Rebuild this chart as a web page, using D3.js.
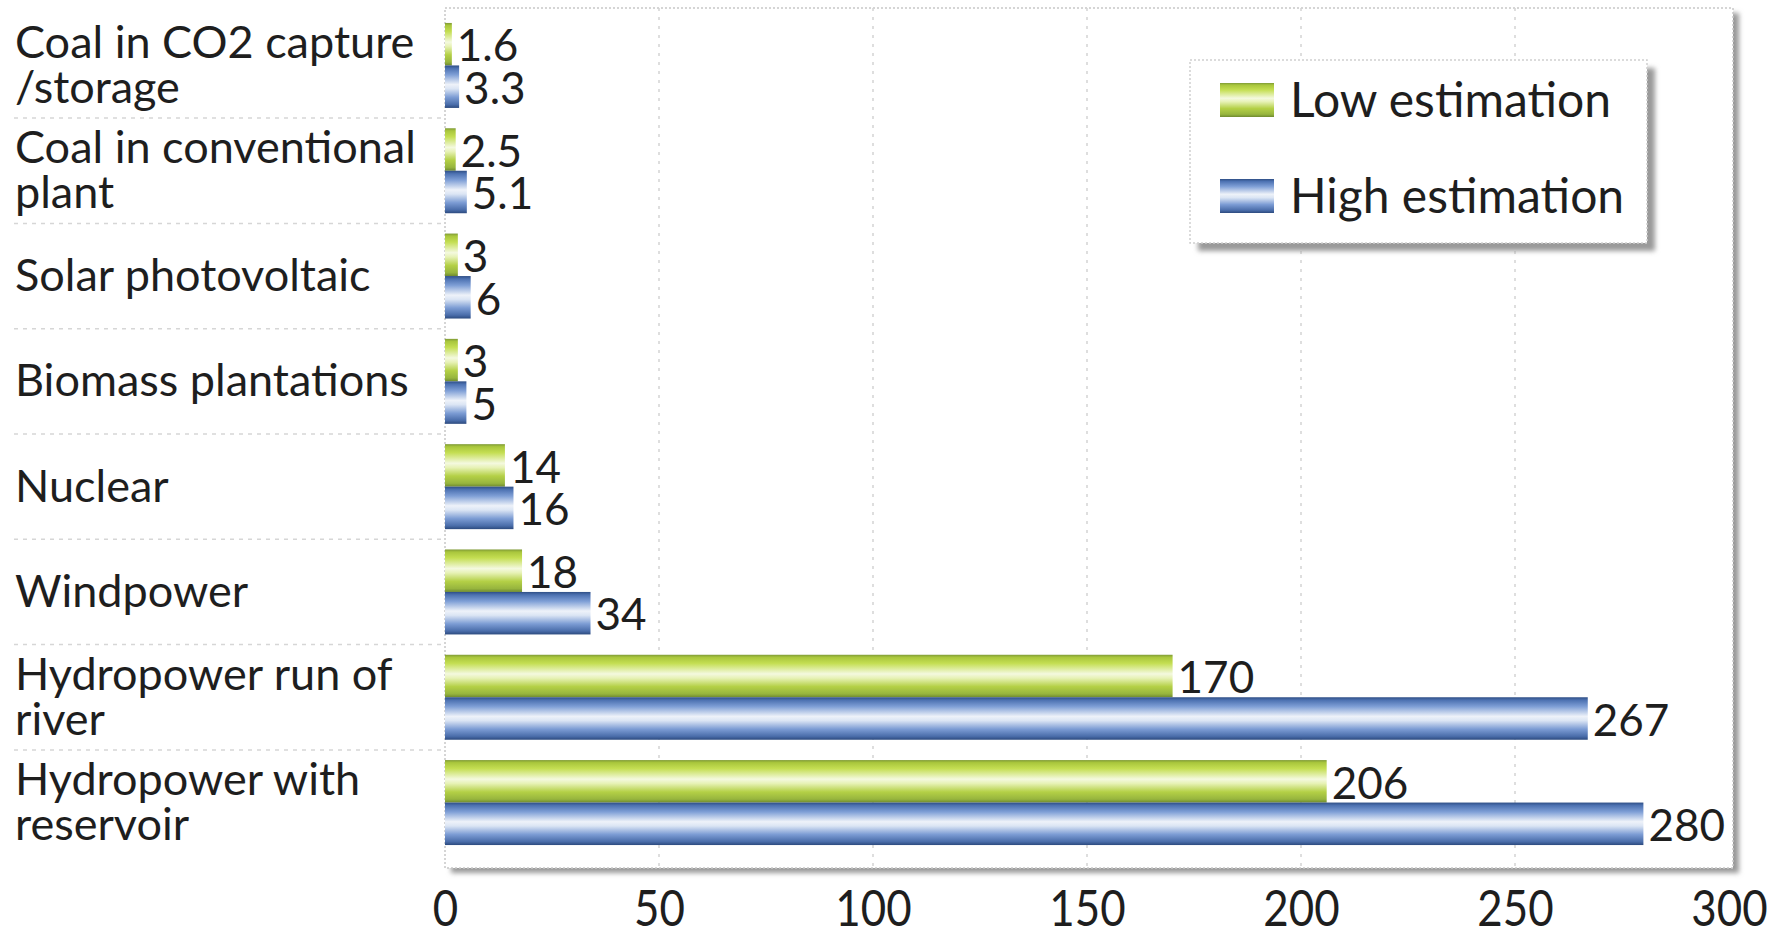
<!DOCTYPE html>
<html>
<head>
<meta charset="utf-8">
<script src="https://cdn.jsdelivr.net/npm/d3@7"></script>
<style>
  html, body { margin: 0; padding: 0; background: #ffffff; }
  svg { display: block; }
  text { font-family: Lato, "Noto Sans", sans-serif; fill: #1e1e1e; }
</style>
</head>
<body>
<svg id="chart" width="1768" height="937"></svg>
<script>
// ---- data ----
const categories = [
  "Coal in CO2 capture\n/storage",
  "Coal in conventional\nplant",
  "Solar photovoltaic",
  "Biomass plantations",
  "Nuclear",
  "Windpower",
  "Hydropower run of\nriver",
  "Hydropower with\nreservoir"
];
const lowValues  = [1.6, 2.5, 3, 3, 14, 18, 170, 206];
const highValues = [3.3, 5.1, 6, 5, 16, 34, 267, 280];
const valueLabels = {
  low:  ["1.6", "2.5", "3", "3", "14", "18", "170", "206"],
  high: ["3.3", "5.1", "6", "5", "16", "34", "267", "280"]
};
const seriesKeys  = ["low", "high"];
const seriesNames = ["Low estimation", "High estimation"];
const xTicks = [0, 50, 100, 150, 200, 250, 300];

// ---- layout ----
const svg = d3.select("#chart");
const frame = { left: 445, right: 1733, top: 8, bottom: 868 };

const x = d3.scaleLinear().domain([0, 300]).range([445, 1729]);
const y = d3.scaleBand().domain(d3.range(categories.length))
  .range([4, 864]).paddingInner(0.193).paddingOuter(0.18);
const ySub = d3.scaleBand().domain(seriesKeys).range([0, y.bandwidth()]);

const rows = categories.map((c, i) => ({
  i, cat: c, low: lowValues[i], high: highValues[i]
}));

// ---- defs ----
const defs = svg.append("defs");
const blur = defs.append("filter").attr("id", "blur")
  .attr("x", "-5%").attr("y", "-5%").attr("width", "110%").attr("height", "110%");
blur.append("feGaussianBlur").attr("stdDeviation", 2.5);

const gradStops = {
  low: [
    [0, "#7f9a36"], [0.06, "#a9c63c"], [0.2, "#c4de52"], [0.45, "#f4f9df"],
    [0.55, "#e7f2b6"], [0.75, "#b4d046"], [0.92, "#97b53e"], [1, "#6f8a30"]
  ],
  high: [
    [0, "#2f4f86"], [0.07, "#4d72b2"], [0.22, "#7f9fd6"], [0.45, "#eef2f9"],
    [0.55, "#dbe5f4"], [0.75, "#7c9cd4"], [0.92, "#4a6daa"], [1, "#2c4a7e"]
  ]
};
seriesKeys.forEach(k => {
  const g = defs.append("linearGradient").attr("id", "grad-" + k)
    .attr("x1", 0).attr("y1", 0).attr("x2", 0).attr("y2", 1);
  gradStops[k].forEach(([o, c]) => g.append("stop").attr("offset", o).attr("stop-color", c));
});

// ---- plot frame with shadow ----
svg.append("rect")
  .attr("x", frame.left + 6).attr("y", frame.top + 5)
  .attr("width", frame.right - frame.left).attr("height", frame.bottom - frame.top)
  .attr("fill", "#9a9a9a").attr("filter", "url(#blur)");
svg.append("rect")
  .attr("x", frame.left).attr("y", frame.top)
  .attr("width", frame.right - frame.left).attr("height", frame.bottom - frame.top)
  .attr("fill", "#ffffff").attr("stroke", "#c8c8c8").attr("stroke-width", 1.5)
  .attr("stroke-dasharray", "2,2");

// vertical grid lines
svg.append("g").selectAll("line")
  .data(xTicks.filter(t => t > 0 && t < 300))
  .join("line")
  .attr("x1", d => x(d)).attr("x2", d => x(d))
  .attr("y1", frame.top).attr("y2", frame.bottom)
  .attr("stroke", "#d4d4d4").attr("stroke-width", 1.5)
  .attr("stroke-dasharray", "3,6");

// horizontal separators in label column
svg.append("g").selectAll("line")
  .data(d3.range(1, categories.length))
  .join("line")
  .attr("x1", 14).attr("x2", frame.left - 2)
  .attr("y1", i => (y(i - 1) + y.bandwidth() + y(i)) / 2)
  .attr("y2", i => (y(i - 1) + y.bandwidth() + y(i)) / 2)
  .attr("stroke", "#d6d6d6").attr("stroke-width", 1.5)
  .attr("stroke-dasharray", "4,5");

// ---- bars ----
const groups = svg.append("g").selectAll("g.row")
  .data(rows).join("g").attr("class", "row")
  .attr("transform", d => `translate(0,${y(d.i)})`);

seriesKeys.forEach(k => {
  groups.append("rect")
    .attr("x", x(0))
    .attr("y", ySub(k))
    .attr("width", d => x(d[k]) - x(0))
    .attr("height", ySub.bandwidth())
    .attr("fill", `url(#grad-${k})`);
  groups.append("text")
    .attr("x", d => x(d[k]) + 5)
    .attr("y", ySub(k) + ySub.bandwidth() - 4)
    .attr("font-size", 44)
    .text(d => valueLabels[k][d.i]);
});

// ---- category labels ----
const lineH = 45;
svg.append("g").selectAll("text")
  .data(rows).join("text")
  .attr("font-size", 45)
  .each(function(d) {
    const lines = d.cat.split("\n");
    const cy = y(d.i) + y.bandwidth() / 2;
    const first = cy - (lines.length - 1) * lineH / 2 + 15;
    d3.select(this).selectAll("tspan").data(lines).join("tspan")
      .attr("x", 15)
      .attr("y", (l, j) => first + j * lineH)
      .text(l => l);
  });

// ---- x axis ----
const axis = svg.append("g")
  .attr("transform", `translate(0,${frame.bottom})`)
  .call(d3.axisBottom(x).tickValues(xTicks).tickSize(0).tickFormat(d3.format("d")));
axis.select(".domain").remove();
axis.selectAll("text")
  .attr("y", 58).attr("dy", 0)
  .attr("font-size", 51)
  .attr("font-family", "Lato, 'Noto Sans', sans-serif")
  .attr("fill", "#1e1e1e")
  .attr("transform", "scale(0.86,1)");

// ---- legend ----
const lg = { x: 1190, y: 60, w: 457, h: 183 };
svg.append("rect")
  .attr("x", lg.x + 8).attr("y", lg.y + 8).attr("width", lg.w).attr("height", lg.h)
  .attr("fill", "#9a9a9a").attr("filter", "url(#blur)");
svg.append("rect")
  .attr("x", lg.x).attr("y", lg.y).attr("width", lg.w).attr("height", lg.h)
  .attr("fill", "#ffffff").attr("stroke", "#d0d0d0").attr("stroke-width", 1.5)
  .attr("stroke-dasharray", "2,2");
const legendItems = svg.append("g").selectAll("g")
  .data(seriesKeys).join("g")
  .attr("transform", (k, i) => `translate(${lg.x + 30},${lg.y + 40 + i * 96})`);
legendItems.append("rect")
  .attr("x", 0).attr("y", -17).attr("width", 54).attr("height", 34)
  .attr("fill", k => `url(#grad-${k})`);
legendItems.append("text")
  .attr("x", 70).attr("y", 17)
  .attr("font-size", 48)
  .text((k, i) => seriesNames[i]);
</script>
</body>
</html>
